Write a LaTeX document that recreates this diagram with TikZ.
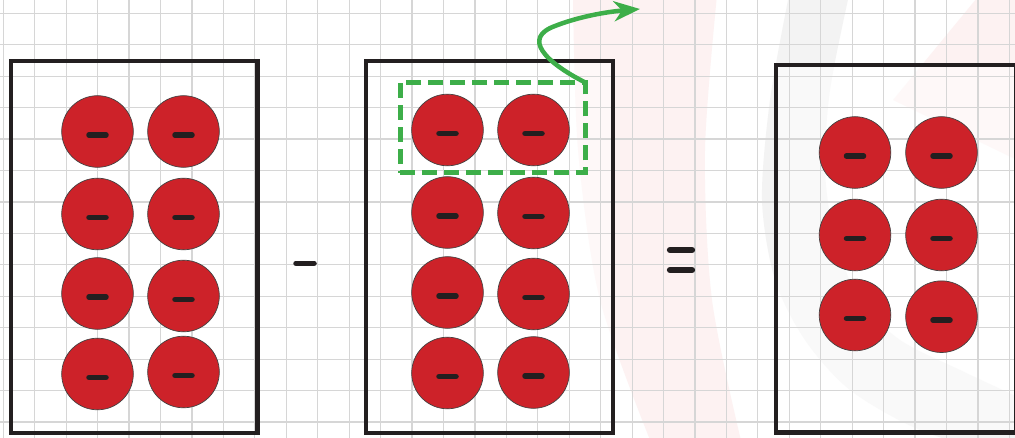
\documentclass[tikz,border=0pt]{standalone}
\usetikzlibrary{arrows.meta}
\definecolor{elecred}{HTML}{CD2229}
\definecolor{inkblack}{HTML}{231F20}
\definecolor{selgreen}{HTML}{3DAE49}
\definecolor{wmpink}{HTML}{FDF2F2}
\definecolor{wmgray}{HTML}{F3F3F3}
\definecolor{gridgray}{HTML}{D6D6D6}
\tikzset{
 gridline/.style={draw=gridgray, line width=1.2pt},
 chargebox/.style={draw=none, fill=white, fill opacity=0.5, rectangle, inner sep=0pt, outer sep=0pt},
 boxborder/.style={draw=inkblack, line width=4.7pt},
 elec/.style={circle, fill=elecred, draw=inkblack!85, line width=0.7pt, minimum size=71.6pt, inner sep=0pt},
 minusbar/.style={draw=inkblack, line width=5.5pt, line cap=round},
 opbar/.style={draw=inkblack, line width=6.3pt, line cap=round},
 selbox/.style={draw=selgreen, line width=5pt, dash pattern=on 15pt off 7pt, rectangle, inner sep=0pt, outer sep=0pt},
 movearrow/.style={draw=selgreen, line width=4.5pt, -{Stealth[length=26pt,width=20pt,inset=8pt]}},
}
\newcommand\putelec[3]{%
 \node[elec] (#1) at (#2,#3) {};
 \draw[minusbar] ([xshift=-8.5pt,yshift=-3.5pt]#1.center) -- ([xshift=8.5pt,yshift=-3.5pt]#1.center);
}
\begin{document}
\begin{tikzpicture}[x=1pt,y=-1pt]
\useasboundingbox (0,0) rectangle (1015,438);
\begin{scope}
\clip (0,0) rectangle (1015,438);
\fill[white] (0,0) rectangle (1015,438);
% watermark
\fill[wmpink] plot[smooth] coordinates {(573,-5) (578,150) (600,300) (652,445)}
  -- plot[smooth] coordinates {(742,445) (712,300) (705,150) (717,-5)} -- cycle;
\fill[wmpink] (893,100) -- (977,-2) -- (1017,-2) -- (1017,160) -- cycle;
\fill[wmgray] plot[smooth] coordinates {(789,-5) (770,100) (762,200) (775,280) (805,340) (850,390) (920,430) (1020,462)}
  -- plot[smooth] coordinates {(1020,398) (960,370) (900,340) (860,300) (835,240) (825,170) (830,90) (849,-5)} -- cycle;
% boxes (fill)
\node[chargebox, minimum width=246.5pt, minimum height=372pt] (box1) at (134.25,247) {};
\node[chargebox, minimum width=247pt, minimum height=372pt] (box2) at (489.5,247) {};
\node[chargebox, minimum width=240.5pt, minimum height=367.5pt] (box3) at (896.25,248.75) {};
% grid
\foreach \i in {0,...,32} \draw[gridline] (3.3+31.44*\i,0) -- (3.3+31.44*\i,438);
\foreach \j in {0,...,13} \draw[gridline] (0,13.3+31.44*\j) -- (1015,13.3+31.44*\j);
% box borders on top of grid
\draw[boxborder] (box1.north west) rectangle (box1.south east);
\draw[boxborder] (box2.north west) rectangle (box2.south east);
\draw[boxborder] (box3.north west) rectangle (box3.south east);
\end{scope}
% electrons box 1
\putelec{aa}{97.5}{131.5}\putelec{ab}{183.5}{131.5}
\putelec{ac}{97.5}{214}\putelec{ad}{183.5}{214}
\putelec{ae}{97.5}{293.5}\putelec{af}{183.5}{296}
\putelec{ag}{97.5}{374}\putelec{ah}{183.5}{372}
% electrons box 2
\putelec{ba}{447.5}{130}\putelec{bb}{533.5}{130}
\putelec{bc}{447.5}{212.5}\putelec{bd}{533.5}{213}
\putelec{be}{447.5}{292.5}\putelec{bf}{533.5}{294}
\putelec{bg}{447.5}{373}\putelec{bh}{533.5}{372.5}
% electrons box 3
\putelec{ca}{855}{152.5}\putelec{cb}{941.5}{152.5}
\putelec{cc}{855}{235}\putelec{cd}{941.5}{235}
\putelec{ce}{855}{315}\putelec{cf}{941.5}{316.7}
% operators
\coordinate (minusop) at (305,263.3);
\draw[opbar, line width=5.5pt] ([xshift=-9pt]minusop) -- ([xshift=9pt]minusop);
\coordinate (equalsop) at (681,260);
\draw[opbar] ([xshift=-11pt,yshift=10pt]equalsop) -- ([xshift=11pt,yshift=10pt]equalsop);
\draw[opbar] ([xshift=-11pt,yshift=-10pt]equalsop) -- ([xshift=11pt,yshift=-10pt]equalsop);
% selection and arrow
\node[selbox, minimum width=185.3pt, minimum height=90.5pt] (sel) at (492.65,127.75) {};
\coordinate (arrowend) at (640,9);
\draw[movearrow] (sel.north east) .. controls (545,62) and (522,38) .. (555,26) .. controls (578,17) and (605,12) .. (arrowend);
\end{tikzpicture}
\end{document}
